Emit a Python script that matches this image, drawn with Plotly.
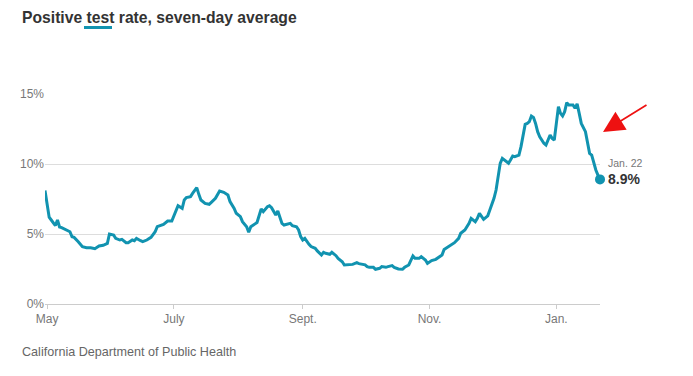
import plotly.graph_objects as go

dates = [
    "2020-04-30", "2020-05-01", "2020-05-02", "2020-05-03", "2020-05-05", "2020-05-06", "2020-05-07", "2020-05-08",
    "2020-05-10", "2020-05-12", "2020-05-13", "2020-05-14", "2020-05-16", "2020-05-18", "2020-05-20", "2020-05-22",
    "2020-05-24", "2020-05-26", "2020-05-28", "2020-05-30", "2020-05-31", "2020-06-02", "2020-06-03", "2020-06-05",
    "2020-06-06", "2020-06-08", "2020-06-09", "2020-06-11", "2020-06-12", "2020-06-13", "2020-06-15", "2020-06-16",
    "2020-06-18", "2020-06-20", "2020-06-22", "2020-06-23", "2020-06-26", "2020-06-28", "2020-06-30", "2020-07-02",
    "2020-07-03", "2020-07-05", "2020-07-06", "2020-07-07", "2020-07-09", "2020-07-10", "2020-07-12", "2020-07-13",
    "2020-07-14", "2020-07-16", "2020-07-18", "2020-07-19", "2020-07-21", "2020-07-23", "2020-07-25", "2020-07-27",
    "2020-07-28", "2020-07-30", "2020-07-31", "2020-08-02", "2020-08-03", "2020-08-05", "2020-08-06", "2020-08-07",
    "2020-08-08", "2020-08-10", "2020-08-12", "2020-08-13", "2020-08-15", "2020-08-16", "2020-08-17", "2020-08-19",
    "2020-08-20", "2020-08-21", "2020-08-22", "2020-08-23", "2020-08-25", "2020-08-26", "2020-08-27", "2020-08-29",
    "2020-08-30", "2020-08-31", "2020-09-01", "2020-09-02", "2020-09-04", "2020-09-05", "2020-09-07", "2020-09-08",
    "2020-09-10", "2020-09-11", "2020-09-12", "2020-09-14", "2020-09-15", "2020-09-17", "2020-09-18", "2020-09-20",
    "2020-09-21", "2020-09-24", "2020-09-25", "2020-09-27", "2020-09-28", "2020-10-01", "2020-10-02", "2020-10-03",
    "2020-10-05", "2020-10-06", "2020-10-08", "2020-10-09", "2020-10-11", "2020-10-12", "2020-10-14", "2020-10-15",
    "2020-10-17", "2020-10-19", "2020-10-20", "2020-10-22", "2020-10-23", "2020-10-24", "2020-10-25", "2020-10-27",
    "2020-10-28", "2020-10-30", "2020-10-31", "2020-11-02", "2020-11-04", "2020-11-05", "2020-11-07", "2020-11-08",
    "2020-11-10", "2020-11-12", "2020-11-13", "2020-11-15", "2020-11-16", "2020-11-18", "2020-11-20", "2020-11-21",
    "2020-11-23", "2020-11-24", "2020-11-25", "2020-11-27", "2020-11-29", "2020-11-30", "2020-12-02", "2020-12-03",
    "2020-12-04", "2020-12-05", "2020-12-06", "2020-12-08", "2020-12-09", "2020-12-10", "2020-12-11", "2020-12-12",
    "2020-12-14", "2020-12-15", "2020-12-16", "2020-12-17", "2020-12-18", "2020-12-19", "2020-12-20", "2020-12-21",
    "2020-12-22", "2020-12-23", "2020-12-24", "2020-12-26", "2020-12-27", "2020-12-28", "2020-12-29", "2020-12-30",
    "2020-12-31", "2021-01-01", "2021-01-02", "2021-01-03", "2021-01-04", "2021-01-05", "2021-01-06", "2021-01-07",
    "2021-01-09", "2021-01-10", "2021-01-11", "2021-01-12", "2021-01-13", "2021-01-15", "2021-01-16", "2021-01-17",
    "2021-01-18", "2021-01-19", "2021-01-20", "2021-01-21", "2021-01-22",
]

positive_rate = [
    8.1, 6.95, 6.2, 6.0, 5.6, 6.0, 5.5, 5.45,
    5.33, 5.16, 4.8, 4.76, 4.45, 4.1, 4.02, 4.02,
    3.95, 4.14, 4.19, 4.33, 5.0, 4.93, 4.69, 4.57,
    4.62, 4.38, 4.38, 4.57, 4.52, 4.69, 4.52, 4.45,
    4.57, 4.76, 5.16, 5.52, 5.69, 5.93, 5.93, 6.71,
    7.02, 6.83, 7.43, 7.6, 7.67, 7.9, 8.31, 7.83,
    7.43, 7.19, 7.12, 7.26, 7.55, 8.07, 7.98, 7.79,
    7.31, 6.83, 6.48, 6.24, 5.88, 5.52, 5.12, 5.52,
    5.64, 5.82, 6.79, 6.6, 6.95, 7.02, 6.88, 6.36,
    6.64, 6.24, 5.76, 5.64, 5.69, 5.76, 5.59, 5.52,
    5.29, 4.81, 4.57, 4.69, 4.26, 4.1, 3.98, 3.79,
    3.5, 3.69, 3.62, 3.55, 3.69, 3.45, 3.26, 3.02,
    2.79, 2.79, 2.83, 2.95, 2.88, 2.8, 2.67, 2.62,
    2.62, 2.48, 2.55, 2.67, 2.62, 2.67, 2.74, 2.62,
    2.5, 2.48, 2.62, 2.79, 3.07, 3.43, 3.26, 3.26,
    3.38, 3.14, 2.9, 3.1, 3.19, 3.31, 3.5, 3.9,
    4.1, 4.26, 4.38, 4.69, 5.05, 5.29, 5.76, 6.12,
    5.88, 6.12, 6.48, 6.05, 6.3, 6.71, 7.55, 8.14,
    9.1, 10.05, 10.4, 10.16, 10.05, 10.3, 10.57, 10.52,
    10.64, 11.24, 11.95, 12.83, 12.9, 13.02, 13.43, 13.33,
    12.9, 12.31, 11.95, 11.48, 11.36, 11.71, 12.07, 11.83,
    11.71, 12.9, 14.1, 13.62, 13.43, 13.74, 14.38, 14.21,
    14.21, 13.98, 14.29, 13.62, 12.9, 12.31, 11.48, 10.76,
    10.64, 10.05, 9.57, 9.21, 8.9,
]

x_tick_vals = ["2020-05-01", "2020-07-01", "2020-09-01", "2020-11-01", "2021-01-01"]
x_tick_text = ["May", "July", "Sept.", "Nov.", "Jan."]
y_tick_vals = [0, 5, 10, 15]
y_tick_text = ["0%", "5%", "10%", "15%"]

title_text = "Positive test rate, seven-day average"
source_text = "California Department of Public Health"
last_label = "Jan. 22"
last_value_text = "8.9%"

TEAL = "#1193b0"
OFF = 8  # page body margin
W, H = 685, 360
L, T = 45 - OFF, 94 - OFF
PW, PH = 555, 210
R, B = W - L - PW, H - T - PH


def px(x):
    return (x - OFF - L) / PW


def py(y):
    return (T + PH - (y - OFF)) / PH


fig = go.Figure()
fig.add_trace(go.Scatter(
    x=dates, y=positive_rate, mode="lines",
    line=dict(color=TEAL, width=3), hoverinfo="skip", showlegend=False,
))
fig.add_trace(go.Scatter(
    x=[dates[-1]], y=[positive_rate[-1]], mode="markers",
    marker=dict(color=TEAL, size=10), cliponaxis=False,
    hoverinfo="skip", showlegend=False,
))

fig.update_layout(
    width=W, height=H,
    margin=dict(l=L, r=R, t=T, b=B),
    paper_bgcolor="white", plot_bgcolor="white",
    font=dict(family="Liberation Sans, Arial, sans-serif", color="#666", size=12),
    xaxis=dict(
        range=[dates[0], dates[-1]], tickvals=x_tick_vals, ticktext=x_tick_text,
        showgrid=False, showline=True, linecolor="#cccccc", linewidth=1,
        ticks="outside", ticklen=4, tickcolor="#cccccc", zeroline=False,
        tickfont=dict(size=12, color="#777"),
    ),
    yaxis=dict(
        range=[0, 15], tickvals=y_tick_vals, ticktext=y_tick_text,
        showgrid=True, gridcolor="#dddddd", gridwidth=1, zeroline=False,
        ticks="", tickfont=dict(size=12, color="#777"),
    ),
    shapes=[dict(
        type="line", xref="paper", yref="paper",
        x0=px(84), x1=px(112), y0=py(27.5), y1=py(27.5),
        line=dict(color=TEAL, width=3),
    )],
    annotations=[
        dict(text="<b>" + title_text + "</b>", xref="paper", yref="paper",
             x=px(20), y=py(17), xanchor="left", yanchor="middle", showarrow=False,
             font=dict(family="Liberation Sans, Arial, sans-serif", size=15.7, color="#333")),
        dict(text=source_text, xref="paper", yref="paper",
             x=px(20), y=py(352), xanchor="left", yanchor="middle", showarrow=False,
             font=dict(size=12.6, color="#666")),
        dict(text=last_label, x=dates[-1], y=positive_rate[-1], xanchor="left", yanchor="middle",
             xshift=6, yshift=16, showarrow=False, font=dict(size=10.5, color="#777")),
        dict(text="<b>" + last_value_text + "</b>", x=dates[-1], y=positive_rate[-1],
             xanchor="left", yanchor="middle", xshift=6, yshift=0, showarrow=False,
             font=dict(size=14, color="#333")),
        dict(text="", xref="paper", yref="paper", x=px(603), y=py(132),
             ax=45, ay=-28, showarrow=True, arrowhead=2, arrowsize=2.5,
             arrowwidth=1.7, arrowcolor="#ee1111", standoff=0),
    ],
)

fig.write_html("out.html")
